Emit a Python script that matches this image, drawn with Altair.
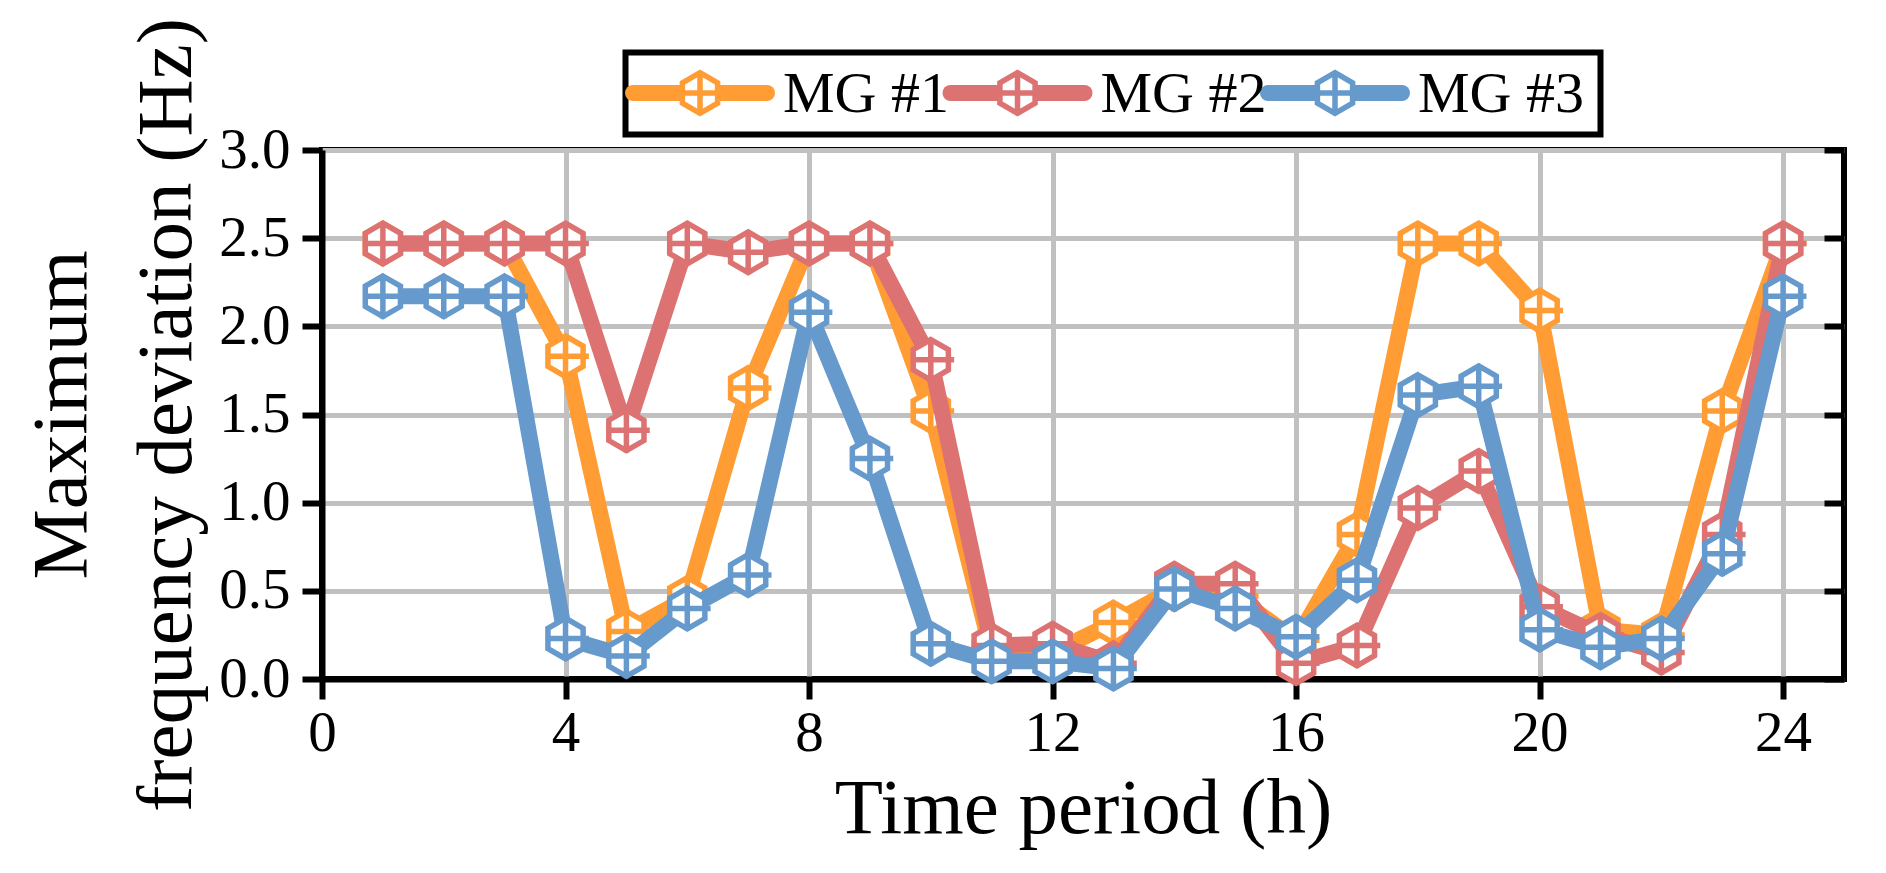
import altair as alt
import pandas as pd

# values
hours = list(range(1, 25))
mg1 = [2.47, 2.47, 2.47, 1.83, 0.27, 0.46, 1.65, 2.47, 2.47, 1.52, 0.15, 0.15,
       0.32, 0.51, 0.47, 0.22, 0.82, 2.47, 2.47, 2.09, 0.28, 0.25, 1.52, 2.47]
mg2 = [2.47, 2.47, 2.47, 2.47, 1.41, 2.47, 2.42, 2.47, 2.47, 1.81, 0.19, 0.20,
       0.09, 0.54, 0.54, 0.09, 0.19, 0.97, 1.18, 0.41, 0.25, 0.15, 0.82, 2.47]
mg3 = [2.17, 2.17, 2.17, 0.23, 0.13, 0.40, 0.59, 2.08, 1.25, 0.20, 0.10, 0.10,
       0.06, 0.51, 0.40, 0.24, 0.56, 1.61, 1.66, 0.28, 0.18, 0.23, 0.71, 2.17]

series_names = ["MG #1", "MG #2", "MG #3"]
series_colors = ["#ff9c33", "#dc7272", "#6699cc"]
x_ticks = [0, 4, 8, 12, 16, 20, 24]
y_ticks = [0.0, 0.5, 1.0, 1.5, 2.0, 2.5, 3.0]

FONT = "Liberation Serif"
# pointy-top hexagon with a plus inside
HEX = ("M0,-1L0.866,-0.5L0.866,0.5L0,1L-0.866,0.5L-0.866,-0.5Z"
       "M0,-1L0,1.1M-0.866,0L1.15,0")
LINE = "M-1,0L1,0"
MARK_SIZE = 1650
MARK_STROKE = 5.5

df = pd.DataFrame({
    "hour": hours * 3,
    "value": mg1 + mg2 + mg3,
    "series": [s for s in series_names for _ in hours],
})
legend_df = pd.DataFrame({"series": series_names})
box_df = pd.DataFrame({"box": [0]})

color = alt.Color("series:N", scale=alt.Scale(domain=series_names, range=series_colors), legend=None)
x_scale = alt.Scale(domain=[0, 25], nice=False)
y_scale = alt.Scale(domain=[0, 3], nice=False)

x_axis = alt.Axis(values=x_ticks, title="Time period (h)", grid=True, labelPadding=6,
                  titlePadding=9, labelFlush=False)
y_axis = alt.Axis(orient="left", values=y_ticks, format=".1f",
                  title=["Maximum", "frequency deviation (Hz)"],
                  grid=True, labelPadding=12, titlePadding=11, titleLineHeight=105)
right_axis = alt.Axis(orient="right", values=y_ticks, offset=-20, domain=False, labels=False,
                      grid=False, title=None, tickSize=20)

# axes and grid come from these two layers alone
axes_layer = alt.Chart(df).mark_line(opacity=0).encode(
    x=alt.X("hour:Q", scale=x_scale, axis=x_axis),
    y=alt.Y("value:Q", scale=y_scale, axis=y_axis),
)
right_layer = alt.Chart(df).mark_line(opacity=0).encode(
    x=alt.X("hour:Q", scale=x_scale, axis=None),
    y=alt.Y("value:Q", scale=y_scale, axis=right_axis),
)

layers = [axes_layer, right_layer]
for name in series_names:
    base = alt.Chart(df).transform_filter(alt.datum.series == name)
    line = base.mark_line(strokeWidth=16, strokeJoin="round").encode(
        x=alt.X("hour:Q", scale=x_scale, axis=None),
        y=alt.Y("value:Q", scale=y_scale, axis=None),
        color=color,
    )
    pts = base.mark_point(shape=HEX, size=MARK_SIZE, filled=False, fill="white", fillOpacity=1,
                          strokeWidth=MARK_STROKE, opacity=1).encode(
        x=alt.X("hour:Q", scale=x_scale, axis=None),
        y=alt.Y("value:Q", scale=y_scale, axis=None),
        color=color,
    )
    layers += [line, pts]

# legend drawn above the plot
leg_x = alt.X("series:N", scale=alt.Scale(type="point", domain=series_names, range=[378, 1013], padding=0),
              axis=None)
box = alt.Chart(box_df).mark_rect(fill="white", stroke="black", strokeWidth=6).encode(
    x=alt.value(303.5), x2=alt.value(1278.5), y=alt.value(-97.5), y2=alt.value(-15.5)
)
leg_line = alt.Chart(legend_df).mark_point(shape=LINE, size=134 ** 2, filled=False, strokeWidth=16,
                                           strokeCap="round", opacity=1).encode(
    x=leg_x, y=alt.value(-57), color=color
)
leg_mark = alt.Chart(legend_df).mark_point(shape=HEX, size=MARK_SIZE, filled=False, fill="white",
                                           fillOpacity=1, strokeWidth=MARK_STROKE, opacity=1).encode(
    x=leg_x, y=alt.value(-57), color=color
)
leg_text = alt.Chart(legend_df).mark_text(align="left", baseline="middle", dx=83, font=FONT,
                                          fontSize=58, color="black").encode(
    x=leg_x, y=alt.value(-55), text="series:N"
)
layers += [box, leg_line, leg_mark, leg_text]

chart = (
    alt.layer(*layers)
    .resolve_scale(x="independent")
    .resolve_axis(y="independent")
    .properties(
        width=1522,
        height=529,
        autosize=alt.AutoSizeParams(type="none"),
        padding={"left": 314, "top": 142, "right": 34, "bottom": 186},
    )
    .configure_view(stroke="black", strokeWidth=6)
    .configure_axis(
        domainColor="black", domainWidth=6, tickColor="black", tickWidth=6, tickSize=20,
        labelFont=FONT, labelFontSize=57, labelColor="black",
        titleFont=FONT, titleFontSize=79, titleFontWeight="normal", titleColor="black",
        gridColor="#c0c0c0", gridWidth=5,
    )
)

chart.save("out.html", embed_options={"renderer": "svg", "actions": False})
